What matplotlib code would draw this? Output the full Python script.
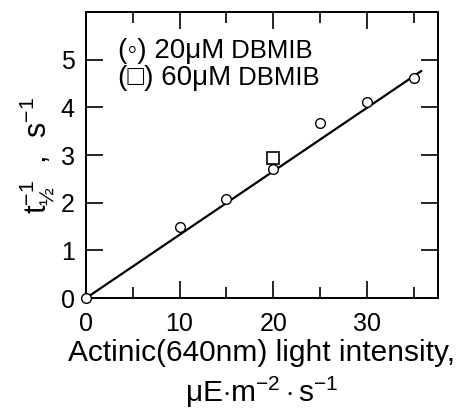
import matplotlib
matplotlib.use("Agg")
import matplotlib.pyplot as plt
from matplotlib.ticker import MultipleLocator

plt.rcParams["font.family"] = ["Liberation Sans", "DejaVu Sans"]
plt.rcParams["mathtext.fontset"] = "custom"
plt.rcParams["mathtext.rm"] = "Liberation Sans"
plt.rcParams["mathtext.it"] = "Liberation Sans"
plt.rcParams["mathtext.bf"] = "Liberation Sans"

# 20 uM DBMIB (circles)
intensity_20 = [0, 10, 15, 20, 25, 30, 35]
rate_20 = [0.0, 1.50, 2.08, 2.70, 3.68, 4.12, 4.61]
# 60 uM DBMIB (square)
intensity_60 = [20]
rate_60 = [2.93]
# fitted line
fit_x = [0, 35.8]
fit_y = [0.0, 4.76]

fig = plt.figure(figsize=(4.62, 4.13), dpi=100)
ax = fig.add_axes([0.186, 0.278, 0.762, 0.693])

ax.plot(fit_x, fit_y, color="black", lw=1.6, zorder=2)
ax.plot(intensity_20, rate_20, "o", ms=7, mfc="white", mec="black", mew=1.0, zorder=3, clip_on=False)
ax.plot(intensity_60, rate_60, "s", ms=9, mfc="white", mec="black", mew=1.2, zorder=3)

ax.set_xlim(0, 37.6)
ax.set_ylim(0, 6.0)
ax.xaxis.set_major_locator(MultipleLocator(10))
ax.xaxis.set_minor_locator(MultipleLocator(5))
ax.yaxis.set_major_locator(MultipleLocator(1))
ax.tick_params(which="both", direction="in", top=True, right=True, width=1.2, labelsize=18)
ax.tick_params(which="major", length=12)
ax.tick_params(which="minor", length=8)
ax.tick_params(axis="x", pad=10)
ax.tick_params(axis="y", pad=8)
for s in ax.spines.values():
    s.set_linewidth(1.4)
ax.set_yticks([0, 1, 2, 3, 4, 5])

ax.set_ylabel(r"t$_{½}^{-1}$  ,  s$^{-1}$", fontsize=22, labelpad=2)
ax.set_xlabel("Actinic(640nm) light intensity,\n" + r"$\mathregular{\mu}$E$\cdot$m$^{-2}\cdot$s$^{-1}$",
              fontsize=21.5, linespacing=1.3, labelpad=2)

t1 = ax.text(0.09, 0.863, "(◦) 20μM", transform=ax.transAxes, fontsize=20, va="center")
ax.annotate(" DBMIB", xy=(1, 0.5), xycoords=t1, fontsize=18.5, va="center")
t2 = ax.text(0.09, 0.77, "(□) 60μM", transform=ax.transAxes, fontsize=20, va="center")
ax.annotate(" DBMIB", xy=(1, 0.5), xycoords=t2, fontsize=18.5, va="center")

fig.savefig("out.png", dpi=100)
